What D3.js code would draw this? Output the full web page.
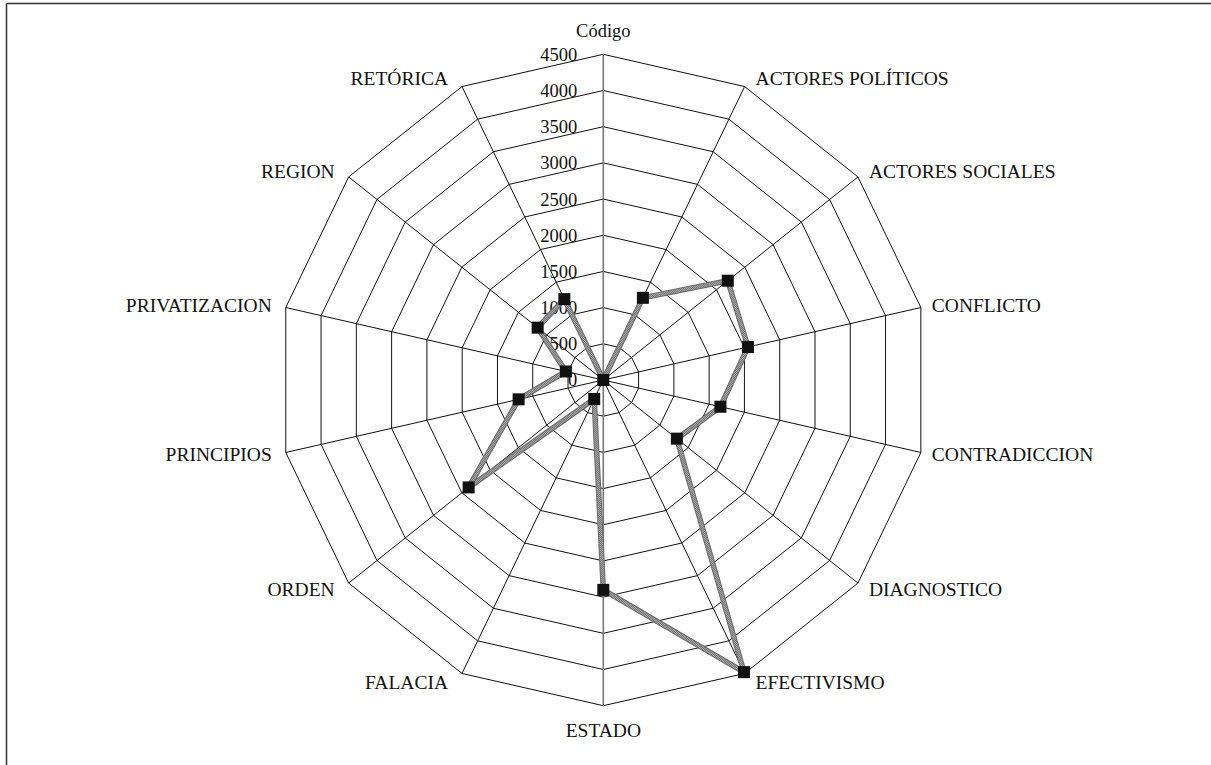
<!DOCTYPE html>
<html>
<head>
<meta charset="utf-8">
<script src="https://cdn.jsdelivr.net/npm/d3@7/dist/d3.min.js"></script>
<style>
  html, body { margin: 0; padding: 0; background: #fff; }
  svg { display: block; }
  text { font-family: "Liberation Serif", "DejaVu Serif", serif; fill: #111; }
</style>
</head>
<body>
<svg id="chart" width="1211" height="765"></svg>
<script>
// categories, clockwise from the top
const categories = [
  "Código", "ACTORES POLÍTICOS", "ACTORES SOCIALES", "CONFLICTO", "CONTRADICCION",
  "DIAGNOSTICO", "EFECTIVISMO", "ESTADO", "FALACIA", "ORDEN",
  "PRINCIPIOS", "PRIVATIZACION", "REGION", "RETÓRICA"
]
const values = [0, 1260, 2200, 2050, 1660, 1300, 4480, 2900, 290, 2380, 1200, 530, 1160, 1240]
const tickValues = [0, 500, 1000, 1500, 2000, 2500, 3000, 3500, 4000, 4500]

const width = 1211
const height = 765
const center = {x: 603.3, y: 380}
const outerRadius = 325.7

const svg = d3.select("#chart")

// frame (only top and left edges show in the picture)
svg.append("line").attr("x1", 6.5).attr("y1", 3.5).attr("x2", width).attr("y2", 3.5)
  .attr("stroke", "#333").attr("stroke-width", 1.5)
svg.append("line").attr("x1", 6.5).attr("y1", 3.5).attr("x2", 6.5).attr("y2", height)
  .attr("stroke", "#333").attr("stroke-width", 1.5)

// dithered pattern for the series line
let defs = svg.append("defs")
let pat = defs.append("pattern").attr("id", "dither")
  .attr("patternUnits", "userSpaceOnUse").attr("width", 2).attr("height", 2)
pat.append("rect").attr("width", 2).attr("height", 2).attr("fill", "#c8c8c8")
pat.append("rect").attr("width", 1).attr("height", 1).attr("fill", "#555")
pat.append("rect").attr("x", 1).attr("y", 1).attr("width", 1).attr("height", 1).attr("fill", "#555")

const r = d3.scaleLinear().domain([0, 4500]).range([0, outerRadius])
const angle = d3.scaleLinear().domain([0, categories.length]).range([0, 2 * Math.PI])

const g = svg.append("g").attr("transform", `translate(${center.x},${center.y})`)

const px = (i, v) => r(v) * Math.sin(angle(i))
const py = (i, v) => -r(v) * Math.cos(angle(i))

// rings
const ringLine = d3.lineRadial()
  .angle((d, i) => angle(i))
  .curve(d3.curveLinearClosed)

g.append("g").selectAll("path")
  .data(tickValues.filter(t => t > 0))
  .join("path")
  .attr("d", t => ringLine.radius(() => r(t))(categories))
  .attr("fill", "none")
  .attr("stroke", "#111")
  .attr("stroke-width", 1)

// spokes
g.append("g").selectAll("line")
  .data(categories)
  .join("line")
  .attr("x1", 0).attr("y1", 0)
  .attr("x2", (d, i) => px(i, 4500))
  .attr("y2", (d, i) => py(i, 4500))
  .attr("stroke", (d, i) => (i === 0 || i === 7) ? "#777" : "#111")
  .attr("stroke-width", (d, i) => (i === 0 || i === 7) ? 1.6 : 1)

// tick labels along the top axis
g.append("g").selectAll("text")
  .data(tickValues)
  .join("text")
  .attr("x", -26)
  .attr("y", t => -r(t))
  .attr("dy", "0.35em")
  .attr("text-anchor", "end")
  .attr("font-size", 18.5)
  .text(t => t)

// category labels
g.append("g").selectAll("text")
  .data(categories)
  .join("text")
  .attr("x", (d, i) => {
    let s = Math.sin(angle(i))
    let vx = px(i, 4500)
    if (Math.abs(s) < 0.01) return vx
    return s > 0 ? vx + 11 : vx - 14
  })
  .attr("y", (d, i) => {
    let c = Math.cos(angle(i))
    let vy = py(i, 4500)
    if (i === 0) return vy - 24
    if (i === 7) return vy + 24
    return vy - 9.5 * c
  })
  .attr("dy", "0.35em")
  .attr("text-anchor", (d, i) => {
    let s = Math.sin(angle(i))
    if (Math.abs(s) < 0.01) return "middle"
    return s > 0 ? "start" : "end"
  })
  .attr("font-size", (d, i) => i === 0 ? 18.5 : 19.5)
  .text(d => d)

// series line
const seriesLine = d3.lineRadial()
  .angle((d, i) => angle(i))
  .radius(d => r(d))
  .curve(d3.curveLinearClosed)

g.append("path")
  .attr("d", seriesLine(values))
  .attr("fill", "none")
  .attr("stroke", "#6a6a6a")
  .attr("stroke-width", 5.5)
  .attr("stroke-linejoin", "round")
g.append("path")
  .attr("d", seriesLine(values))
  .attr("fill", "none")
  .attr("stroke", "url(#dither)")
  .attr("stroke-width", 3.5)
  .attr("stroke-linejoin", "round")

// markers
g.append("g").selectAll("rect")
  .data(values)
  .join("rect")
  .attr("x", (d, i) => px(i, d) - 6)
  .attr("y", (d, i) => py(i, d) - 6)
  .attr("width", 12)
  .attr("height", 12)
  .attr("fill", "#111")
</script>
</body>
</html>
